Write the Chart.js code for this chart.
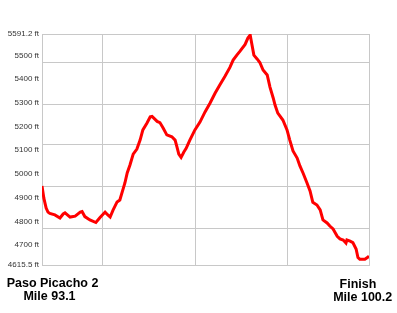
<!DOCTYPE html>
<html>
<head>
<meta charset="utf-8">
<script src="https://cdn.jsdelivr.net/npm/chart.js@4/dist/chart.umd.min.js"></script>
<style>
  html, body { margin: 0; padding: 0; background: #ffffff; }
  canvas { display: block; }
</style>
</head>
<body>
<canvas id="c" width="397" height="313"></canvas>
<script>
// Distance along route (miles)
const miles = [93.10, 93.14, 93.19, 93.23, 93.27, 93.38, 93.49, 93.56, 93.60, 93.71,
  93.82, 93.93, 93.97, 94.03, 94.14, 94.27, 94.36, 94.47, 94.53, 94.58,
  94.64, 94.73, 94.79, 94.86, 94.90, 94.95, 95.01, 95.08, 95.16, 95.23,
  95.29, 95.38, 95.45, 95.49, 95.60, 95.66, 95.73, 95.81, 95.92, 95.99,
  96.03, 96.07, 96.12, 96.18, 96.23, 96.31, 96.42, 96.53, 96.64, 96.75,
  96.86, 96.96, 97.07, 97.18, 97.25, 97.33, 97.40, 97.51, 97.57, 97.62,
  97.66, 97.70, 97.77, 97.83, 97.90, 97.99, 98.05, 98.12, 98.16, 98.22,
  98.33, 98.42, 98.48, 98.55, 98.64, 98.70, 98.77, 98.85, 98.92, 98.98,
  99.07, 99.14, 99.20, 99.29, 99.35, 99.42, 99.51, 99.57, 99.64, 99.70,
  99.72, 99.79, 99.85, 99.92, 99.96, 100.00, 100.11, 100.18, 100.20];
// Elevation (ft)
const elevation = [4949, 4898, 4856, 4839, 4833, 4827, 4814, 4831, 4836, 4818,
  4822, 4839, 4841, 4820, 4806, 4795, 4816, 4839, 4827, 4818,
  4846, 4882, 4890, 4936, 4962, 5004, 5038, 5084, 5105, 5143,
  5186, 5215, 5241, 5243, 5222, 5217, 5194, 5165, 5157, 5143,
  5114, 5084, 5070, 5093, 5108, 5143, 5186, 5219, 5262, 5300,
  5342, 5376, 5412, 5450, 5481, 5502, 5519, 5547, 5574, 5587,
  5545, 5502, 5486, 5471, 5439, 5418, 5367, 5321, 5291, 5257,
  5228, 5186, 5143, 5097, 5067, 5034, 5003, 4964, 4928, 4880,
  4869, 4848, 4806, 4793, 4780, 4768, 4737, 4726, 4721, 4708,
  4721, 4716, 4710, 4683, 4647, 4640, 4640, 4649, 4653];

// Axis tick labels (ft) and gridline positions
const yLabelValues = [4615.5, 4700, 4800, 4900, 5000, 5100, 5200, 5300, 5400, 5500, 5591.2];
const yGridValues = [4615.5, 4767.6, 4945.0, 5122.4, 5295.5, 5472.9, 5591.2];
const xGridValues = [93.1, 94.42, 96.44, 98.42, 100.2];
const startLabel = ["Paso Picacho 2", "Mile 93.1"];
const endLabel = ["Finish", "Mile 100.2"];

const yMin = 4615.5, yMax = 5591.2, xMin = 93.1, xMax = 100.2;
const gridColor = '#c8c8c8';

const endLabelsPlugin = {
  id: 'endLabels',
  afterDraw(chart) {
    const ctx = chart.ctx;
    const xs = chart.scales.x;
    ctx.save();
    ctx.fillStyle = '#000000';
    ctx.font = 'bold 12.5px "Liberation Sans", Arial, sans-serif';
    ctx.textAlign = 'center';
    ctx.textBaseline = 'alphabetic';
    ctx.fillText(startLabel[0], xs.left + 10.5, 287);
    ctx.fillText(startLabel[1], xs.left + 7.5, 300);
    ctx.fillText(endLabel[0], xs.right - 11, 288);
    ctx.fillText(endLabel[1], xs.right - 6.3, 301);
    ctx.restore();
  }
};

new Chart(document.getElementById('c'), {
  type: 'line',
  data: {
    datasets: [{
      data: miles.map((m, i) => ({ x: m, y: elevation[i] })),
      borderColor: '#ff0000',
      borderWidth: 3,
      pointRadius: 0,
      tension: 0,
      fill: false,
      yAxisID: 'y'
    }]
  },
  options: {
    responsive: false,
    animation: false,
    devicePixelRatio: 1,
    layout: { padding: { top: 34, left: 0, right: 28, bottom: 48 } },
    plugins: { legend: { display: false }, tooltip: { enabled: false } },
    scales: {
      x: {
        type: 'linear',
        min: xMin, max: xMax,
        afterBuildTicks: (s) => { s.ticks = xGridValues.map(v => ({ value: v })); },
        afterFit: (s) => { s.height = 0; },
        grid: { color: gridColor, lineWidth: 1, drawTicks: false },
        border: { display: true, color: gridColor, width: 1 },
        ticks: { display: false }
      },
      y: {
        type: 'linear',
        position: 'left',
        min: yMin, max: yMax,
        afterBuildTicks: (s) => { s.ticks = yLabelValues.map(v => ({ value: v })); },
        afterFit: (s) => { s.width = 42; },
        grid: { display: false, drawTicks: false },
        border: { display: true, color: gridColor, width: 1 },
        ticks: {
          autoSkip: false,
          padding: 3,
          color: '#333333',
          font: { family: '"Liberation Sans", Arial, sans-serif', size: 8 },
          callback: (v) => v + ' ft'
        }
      },
      y2: {
        type: 'linear',
        position: 'right',
        min: yMin, max: yMax,
        afterBuildTicks: (s) => { s.ticks = yGridValues.map(v => ({ value: v })); },
        afterFit: (s) => { s.width = 0; },
        grid: { color: gridColor, lineWidth: 1, drawTicks: false },
        border: { display: true, color: gridColor, width: 1 },
        ticks: { display: false }
      }
    }
  },
  plugins: [endLabelsPlugin]
});
</script>
</body>
</html>
